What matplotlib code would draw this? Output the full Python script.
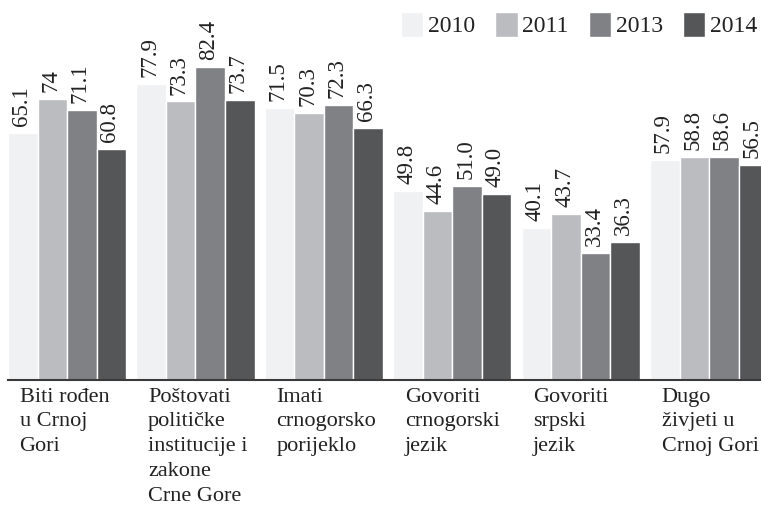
import matplotlib
matplotlib.use("Agg")
import matplotlib.pyplot as plt
import numpy as np

categories = ["Biti rođen\nu Crnoj\nGori",
              "Poštovati\npolitičke\ninstitucije i\nzakone\nCrne Gore",
              "Imati\ncrnogorsko\nporijeklo",
              "Govoriti\ncrnogorski\njezik",
              "Govoriti\nsrpski\njezik",
              "Dugo\nživjeti u\nCrnoj Gori"]
years = ["2010", "2011", "2013", "2014"]
v2010 = [65.1, 77.9, 71.5, 49.8, 40.1, 57.9]
v2011 = [74, 73.3, 70.3, 44.6, 43.7, 58.8]
v2013 = [71.1, 82.4, 72.3, 51.0, 33.4, 58.6]
v2014 = [60.8, 73.7, 66.3, 49.0, 36.3, 56.5]
labels2010 = ["65.1", "77.9", "71.5", "49.8", "40.1", "57.9"]
labels2011 = ["74", "73.3", "70.3", "44.6", "43.7", "58.8"]
labels2013 = ["71.1", "82.4", "72.3", "51.0", "33.4", "58.6"]
labels2014 = ["60.8", "73.7", "66.3", "49.0", "36.3", "56.5"]

series = [v2010, v2011, v2013, v2014]
series_labels = [labels2010, labels2011, labels2013, labels2014]
colors = ["#f0f1f3", "#bbbcc0", "#808185", "#555658"]

plt.rcParams['font.family'] = ['Liberation Serif', 'DejaVu Serif']

W, H = 761, 509
fig = plt.figure(figsize=(W / 100, H / 100), dpi=100)
base_px = 380
ax = fig.add_axes([8 / W, (H - base_px) / H, (W - 8) / W, base_px / H])

x = np.arange(len(categories))
bw = 0.23
for k, (vals, labs, c, yr) in enumerate(zip(series, series_labels, colors, years)):
    pos = x + (k - 1.5) * bw
    bars = ax.bar(pos, vals, width=bw, color=c, edgecolor="white", linewidth=1.0, label=yr)
    for b, lab in zip(bars, labs):
        ax.annotate(lab, (b.get_x() + b.get_width() / 2, b.get_height()),
                    xytext=(-1, 5), textcoords="offset points",
                    rotation=90, ha="center", va="bottom", fontsize=16.5, color="#222222")

ax.set_ylim(0, 100)
ax.set_xlim(-0.46, -0.46 + (W - 8) / 128.4)
for s in ["top", "right", "left"]:
    ax.spines[s].set_visible(False)
ax.spines["bottom"].set_color("#3a3a3a")
ax.spines["bottom"].set_linewidth(1.5)
ax.set_yticks([])
ax.set_xticks([])

for i, cat in enumerate(categories):
    ax.text(i - 0.46 + 0.09, -0.02, cat, transform=ax.get_xaxis_transform(),
            ha="left", va="top", fontsize=16, linespacing=1.42, color="#222222")

leg = fig.legend(loc="upper right", bbox_to_anchor=(1.0, 1.0 - 8 / H), ncol=4, frameon=False,
                 fontsize=17, handlelength=0.95, handleheight=1.3, handletextpad=0.2,
                 columnspacing=0.85, borderaxespad=0.0, borderpad=0.15)
for t in leg.get_texts():
    t.set_color("#222222")

fig.savefig("out.png", dpi=100)
